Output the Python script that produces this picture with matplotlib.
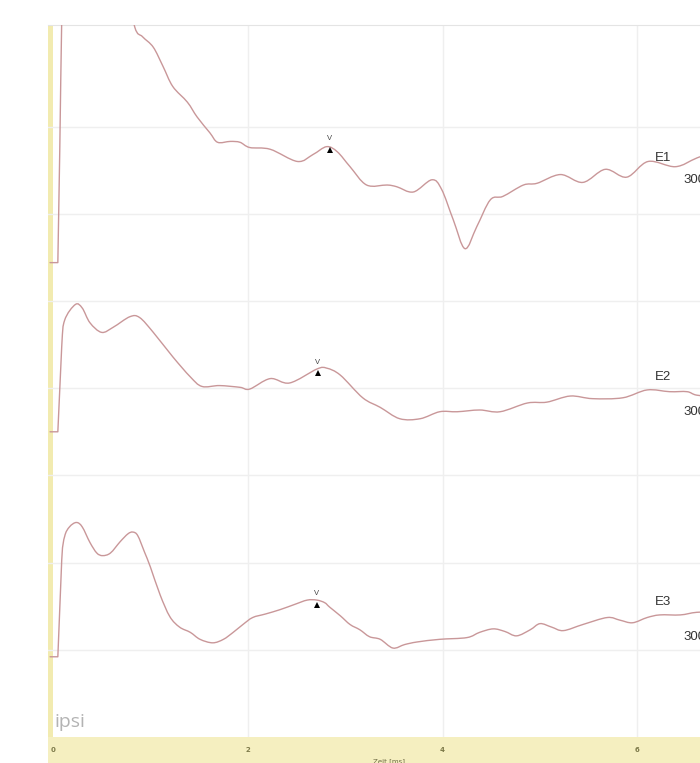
import numpy as np
import matplotlib.pyplot as plt
from matplotlib.path import Path
from matplotlib.patches import PathPatch

# latency (ms) and amplitude (grid divisions above each trace's own baseline)
e1_t = [-0.03, 0.05, 0.07, 0.09, 0.11, 0.18, 0.48, 0.74, 0.84, 0.92, 1.03, 1.13, 1.23, 1.38, 1.48,
        1.61, 1.69, 1.82, 1.92, 2.02, 2.23, 2.51, 2.67, 2.81, 2.92, 3.05, 3.22, 3.43, 3.53, 3.70,
        3.89, 3.99, 4.11, 4.23, 4.35, 4.49, 4.62, 4.83, 4.97, 5.21, 5.44, 5.67, 5.89, 6.11, 6.39,
        6.61, 6.85]
e1_v = [0.0, 0.0, 1.30, 2.79, 3.48, 4.16, 4.05, 3.25, 2.70, 2.59, 2.47, 2.25, 2.02, 1.84, 1.67,
        1.49, 1.38, 1.39, 1.38, 1.32, 1.30, 1.16, 1.24, 1.33, 1.27, 1.10, 0.89, 0.89, 0.87, 0.81,
        0.95, 0.84, 0.49, 0.16, 0.41, 0.72, 0.76, 0.89, 0.91, 1.01, 0.92, 1.07, 0.98, 1.16, 1.10,
        1.20, 1.30]

e2_t = [-0.03, 0.05, 0.09, 0.12, 0.23, 0.30, 0.38, 0.50, 0.62, 0.79, 0.89, 1.03, 1.23, 1.41, 1.53,
        1.71, 1.92, 2.02, 2.23, 2.43, 2.71, 2.81, 2.95, 3.18, 3.36, 3.56, 3.77, 3.97, 4.15, 4.38,
        4.59, 4.87, 5.07, 5.31, 5.54, 5.85, 6.10, 6.33, 6.51, 6.61, 6.85]
e2_v = [0.0, 0.0, 0.98, 1.28, 1.46, 1.42, 1.25, 1.14, 1.20, 1.32, 1.31, 1.14, 0.86, 0.63, 0.52,
        0.53, 0.51, 0.49, 0.61, 0.56, 0.72, 0.73, 0.65, 0.39, 0.28, 0.15, 0.15, 0.23, 0.23, 0.25,
        0.23, 0.33, 0.34, 0.41, 0.38, 0.39, 0.48, 0.46, 0.46, 0.42, 0.39]

e3_t = [-0.03, 0.05, 0.09, 0.12, 0.17, 0.24, 0.30, 0.38, 0.45, 0.51, 0.59, 0.69, 0.77, 0.82, 0.87,
        0.94, 1.00, 1.10, 1.20, 1.30, 1.41, 1.51, 1.64, 1.75, 1.85, 1.95, 2.05, 2.18, 2.33, 2.48,
        2.61, 2.71, 2.79, 2.84, 2.95, 3.05, 3.15, 3.25, 3.36, 3.49, 3.61, 3.74, 3.97, 4.25, 4.38,
        4.52, 4.64, 4.76, 4.90, 5.00, 5.12, 5.24, 5.44, 5.69, 5.82, 5.95, 6.10, 6.23, 6.44, 6.61,
        6.85]
e3_v = [0.0, 0.0, 1.11, 1.38, 1.49, 1.54, 1.49, 1.31, 1.19, 1.16, 1.19, 1.32, 1.41, 1.43, 1.39,
        1.20, 1.03, 0.71, 0.46, 0.34, 0.28, 0.20, 0.16, 0.20, 0.28, 0.37, 0.45, 0.49, 0.54, 0.60,
        0.65, 0.65, 0.62, 0.57, 0.47, 0.37, 0.31, 0.23, 0.20, 0.10, 0.14, 0.17, 0.20, 0.22, 0.28,
        0.32, 0.29, 0.24, 0.31, 0.38, 0.34, 0.30, 0.37, 0.45, 0.42, 0.39, 0.45, 0.48, 0.48, 0.51,
        0.52]

names = ["E1", "E2", "E3"]
baselines = [5.44, 3.50, 0.92]
scale_text = "300"
# wave V: latency and amplitude of each marker
peak_t = [2.84, 2.72, 2.71]
peak_v = [1.32, 0.70, 0.62]
tick_vals = [0, 2, 4, 6]

traces = [(e1_t, e1_v), (e2_t, e2_v), (e3_t, e3_v)]
line_col = "#c99799"
yellow = "#f5efc0"


def smooth_path(x, y, n_straight=2):
    # catmull-rom through the points as cubic beziers; the first segments
    # (flat start + stimulus step) stay straight so they don't overshoot
    p = np.column_stack([x, y])
    pts = [p[0]]
    codes = [Path.MOVETO]
    for i in range(len(p) - 1):
        if i < n_straight:
            pts.append(p[i + 1])
            codes.append(Path.LINETO)
            continue
        p0 = p[i - 1]
        p3 = p[i + 2] if i + 2 < len(p) else p[i + 1]
        c1 = p[i] + (p[i + 1] - p0) / 6.0
        c2 = p[i + 1] - (p3 - p[i]) / 6.0
        pts += [c1, c2, p[i + 1]]
        codes += [Path.CURVE4] * 3
    return Path(np.array(pts), codes)


fig = plt.figure(figsize=(7, 7.63), dpi=100)
ax = fig.add_axes([48/700, 26/763, 672/700, 712/763])
band = fig.add_axes([48/700, 0, 672/700, 26/763])

xmin, xmax = -0.051, 6.848
ax.set_xlim(xmin, xmax)
ax.set_ylim(0, 8.165)
ax.set_xticks(tick_vals[1:])
ax.set_yticks(range(1, 8))
ax.grid(True, color="#efefef", lw=1.0)
ax.tick_params(length=0, labelbottom=False, labelleft=False)
for s in ["left", "right", "bottom"]:
    ax.spines[s].set_visible(False)
ax.spines["top"].set_color("#e4e4e4")
ax.axvspan(xmin, 0.0, color="#f2ebb0", lw=0, zorder=1)

for (t, v), base, name, pt, pv in zip(traces, baselines, names, peak_t, peak_v):
    path = smooth_path(t, np.array(v) + base)
    ax.add_patch(PathPatch(path, fill=False, edgecolor=line_col, lw=1.0, zorder=3,
                           joinstyle="round", capstyle="round"))
    ax.plot(pt, pv + base - 0.03, marker="^", color="k", ms=5, mew=0, zorder=4)
    ax.text(pt, pv + base + 0.06, "V", fontsize=5.5, color="#444444", ha="center", va="bottom",
            family="Liberation Sans", zorder=4)
    # channel name and scale on the right
    ax.text(6.18, base + 1.2 if name == "E1" else base + 0.63, name, fontsize=9.5,
            color="#333333", family="Liberation Sans", va="center")
    ax.text(6.47, base + 0.95 if name == "E1" else base + 0.23, scale_text, fontsize=9.5,
            color="#333333", family="Liberation Sans", va="center", clip_on=False)

ax.text(0.02, 0.115, "ipsi", fontsize=14, color="#b3b3b3", family="Open Sans", va="baseline")

# yellow time axis strip
band.set_facecolor(yellow)
band.set_xlim(xmin, xmax)
band.set_ylim(0, 1)
band.set_xticks([])
band.set_yticks([])
for s in band.spines.values():
    s.set_visible(False)
for tv in tick_vals:
    band.text(tv, 0.5, str(tv), fontsize=5, color="#7d7a4a", ha="center", va="center",
              fontweight="bold")
band.text(3.29, 0.04, "Zeit [ms]", fontsize=5, color="#6f6c45", ha="left", va="center")

fig.savefig("out.png", dpi=100)
